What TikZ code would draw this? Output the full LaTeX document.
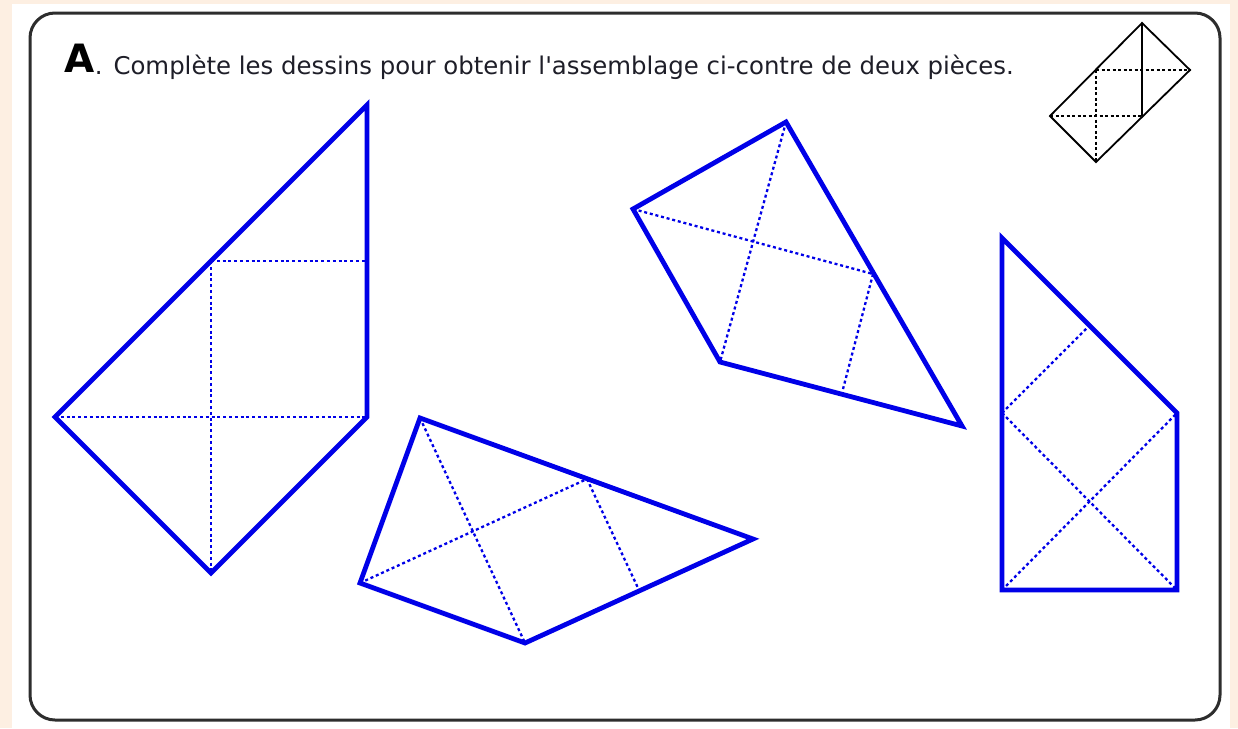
\documentclass[tikz,border=0pt]{standalone}
\usepackage{fontspec}
\setmainfont{DejaVu Sans}[Ligatures=TeXOff]
\usetikzlibrary{positioning}
\definecolor{ficheBlue}{RGB}{0,0,232}
\definecolor{ficheFrame}{RGB}{45,45,45}
\definecolor{ficheText}{RGB}{30,30,40}
\definecolor{fichePeach}{RGB}{253,239,226}

\begin{document}
\begin{tikzpicture}[x=1pt, y=-1pt]
\tikzstyle{piece}=[draw=ficheBlue, line width=4.8pt, line join=miter]
\tikzstyle{fold}=[draw=ficheBlue, line width=2.3pt, dash pattern=on 3pt off 2.8pt]
\tikzstyle{model}=[draw=black, line width=1.8pt]
\tikzstyle{modelfold}=[draw=black, line width=1.6pt, dash pattern=on 3pt off 2.5pt]

% page and frame
\fill[fichePeach] (0,0) rectangle (1238,728);
\fill[white] (12,4) rectangle (1230,728);
\draw[ficheFrame, line width=3pt, rounded corners=25pt] (30,13) rectangle (1220,720);

% title
\node[anchor=base west, inner sep=0pt, text=black, font=\bfseries\fontsize{39}{39}\selectfont] (letter) at (64,72) {A};
\node[anchor=base west, inner sep=0pt, text=ficheText, font=\fontsize{24.4}{24}\selectfont] (title) at ([yshift=-2pt]letter.base east) {.\hspace{11pt}Complète les dessins pour obtenir l'assemblage ci-contre de deux pièces.};

% model of the assembly
\coordinate (mT) at (1142,23);
\coordinate (mR) at (1190,70);
\coordinate (mL) at (1050,116);
\coordinate (mB) at (1096,162);
\coordinate (mM) at (1142,116);
\coordinate (mN) at (1096,70);
\draw[model] (mT) -- (mR) -- (mB) -- (mL) -- cycle;
\draw[model] (mT) -- (mM);
\draw[modelfold] (mN) -- (mR);
\draw[modelfold] (mN) -- (mB);
\draw[modelfold] (mL) -- (mM);

% piece 1
\coordinate (aT) at (367,105);
\coordinate (aR) at (367,417);
\coordinate (aB) at (211,573);
\coordinate (aL) at (55,417);
\coordinate (aU) at (211,261);
\coordinate (aV) at (367,261);
\draw[piece] (aT) -- (aR) -- (aB) -- (aL) -- cycle;
\draw[fold] (aU) -- (aV);
\draw[fold] (aU) -- (aB);
\draw[fold] (aL) -- (aR);

% piece 2
\coordinate (bT) at (420,418);
\coordinate (bR) at (753,539);
\coordinate (bB) at (525,643);
\coordinate (bL) at (360,583);
\coordinate (bU) at (587,479);
\coordinate (bV) at (638,588);
\draw[piece] (bT) -- (bR) -- (bB) -- (bL) -- cycle;
\draw[fold] (bT) -- (bB);
\draw[fold] (bL) -- (bU);
\draw[fold] (bU) -- (bV);

% piece 3
\coordinate (cT) at (786,122);
\coordinate (cL) at (633,209);
\coordinate (cB) at (720,362);
\coordinate (cR) at (962,426);
\coordinate (cU) at (873,274);
\coordinate (cV) at (843,389);
\draw[piece] (cT) -- (cR) -- (cB) -- (cL) -- cycle;
\draw[fold] (cT) -- (cB);
\draw[fold] (cL) -- (cU);
\draw[fold] (cU) -- (cV);

% piece 4
\coordinate (dT) at (1002,238);
\coordinate (dBL) at (1002,590);
\coordinate (dBR) at (1177,590);
\coordinate (dR) at (1177,413);
\coordinate (dM) at (1002,413);
\coordinate (dU) at (1087,328);
\draw[piece] (dT) -- (dBL) -- (dBR) -- (dR) -- cycle;
\draw[fold] (dM) -- (dU);
\draw[fold] (dM) -- (dBR);
\draw[fold] (dBL) -- (dR);
\end{tikzpicture}
\end{document}
